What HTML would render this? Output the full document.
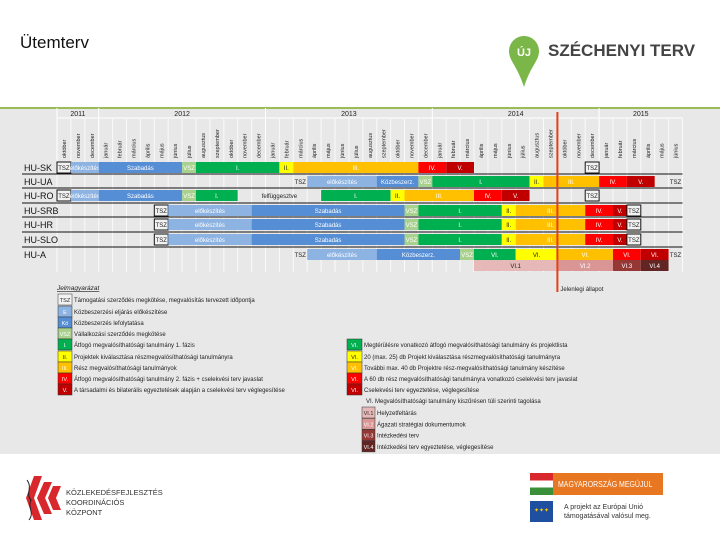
<!DOCTYPE html>
<html><head><meta charset="utf-8"><style>
body{margin:0;width:720px;height:540px;background:#fff;position:relative;overflow:hidden;font-family:"Liberation Sans",sans-serif}
.a{position:absolute}
</style></head><body>
<div class="a" style="left:20px;top:33px;font-size:17px;color:#111;font-family:'Liberation Sans Narrow','Liberation Sans',sans-serif">Ütemterv</div>
<div class="a" style="left:508px;top:34px;width:190px;height:55px">
 <svg width="190" height="55"><path d="M1,17 a15,15 0 1 1 30,0 c0,10 -8,14 -15,36 c-7,-22 -15,-26 -15,-36z" fill="#7ab648"/><text x="16" y="22" font-size="11" font-weight="bold" fill="#fff" text-anchor="middle" font-family="Liberation Sans">ÚJ</text></svg>
 <div class="a" style="left:40px;top:7px;font-size:17px;font-weight:bold;color:#444;font-family:'Liberation Sans Narrow','Liberation Sans',sans-serif;white-space:nowrap">SZÉCHENYI TERV</div>
</div>
<div class="a" style="left:0;top:107px;width:720px;height:345px;background:#e8e8e8;border-top:2px solid #9bbb59"></div>
<svg class="a" id="gantt" style="left:0;top:0" width="720" height="460"></svg>
<div class="a" style="left:24px;top:474px">
 <svg width="40" height="48"><path d="M10,2 l8,0 l-8,22 l8,22 l-8,0 l-8,-22z M20,8 l8,0 l-7,16 l7,16 l-8,0 l-7,-16z M29,12 l8,0 l-5,12 l5,12 l-8,0 l-5,-12z" fill="#d9272e"/><path d="M3,6 c6,8 -2,14 4,20 c-4,8 4,12 -2,20" stroke="#222" fill="none"/></svg>
 <div class="a" style="left:42px;top:14px;font-size:7.5px;line-height:10px;color:#333;white-space:nowrap">KÖZLEKEDÉSFEJLESZTÉS<br>KOORDINÁCIÓS<br>KÖZPONT</div>
</div>
<div class="a" style="left:530px;top:473px;width:23px;height:22px;background:linear-gradient(#d9272e 33%,#fff 33%,#fff 66%,#3a8f3a 66%)"></div>
<div class="a" style="left:553px;top:473px;width:110px;height:22px;background:#e87722;color:#fff;overflow:hidden"><div style="font-size:8.5px;line-height:22px;white-space:nowrap;transform:scaleX(0.82);transform-origin:5px 0;padding-left:5px">MAGYARORSZÁG MEGÚJUL</div></div>
<div class="a" style="left:530px;top:501px;width:23px;height:21px;background:#1f4fa0;color:#fc0;font-size:6px;text-align:center;line-height:21px">✦✦✦</div>
<div class="a" style="left:564px;top:503px;font-size:7px;line-height:9px;color:#333">A projekt az Európai Unió<br>támogatásával valósul meg.</div>
<script>
const years=[["2011",3],["2012",12],["2013",12],["2014",12],["2015",6]];
const months=["október","november","december","január","február","március","április","május","június","július","augusztus","szeptember","október","november","december","január","február","március","április","május","június","július","augusztus","szeptember","október","november","december","január","február","március","április","május","június","július","augusztus","szeptember","október","november","december","január","február","március","április","május","június"];
const rowNames=["HU-SK","HU-UA","HU-RO","HU-SRB","HU-HR","HU-SLO","HU-A",""];
const bars=[
[[0,1,"TSZ","tsz"],[1,3,"előkészítés","e"],[3,9,"Szabadás","k"],[9,10,"VSZ","v"],[10,16,"I.","g"],[16,17,"II.","y"],[17,26,"III.","o"],[26,28,"IV.","r"],[28,30,"V.","d"],[38,39,"TSZ","tsz"]],
[[17,18,"TSZ","tszn"],[18,23,"előkészítés","e"],[23,26,"Közbeszerz.","k"],[26,27,"VSZ","v"],[27,34,"I.","g"],[34,35,"II.","y"],[35,39,"III.","o"],[39,41,"IV.","r"],[41,43,"V.","d"],[44,45,"TSZ","tszn"]],
[[0,1,"TSZ","tsz"],[1,3,"előkészítés","e"],[3,9,"Szabadás","k"],[9,10,"VSZ","v"],[10,13,"I.","g"],[13,19,"felfüggesztve","n"],[19,24,"I.","g"],[24,25,"II.","y"],[25,30,"III.","o"],[30,32,"IV.","r"],[32,34,"V.","d"],[38,39,"TSZ","tsz"]],
[[7,8,"TSZ","tsz"],[8,14,"előkészítés","e"],[14,25,"Szabadás","k"],[25,26,"VSZ","v"],[26,32,"I.","g"],[32,33,"II.","y"],[33,38,"III.","o"],[38,40,"IV.","r"],[40,41,"V.","d"],[41,42,"TSZ","tsz"]],
[[7,8,"TSZ","tsz"],[8,14,"előkészítés","e"],[14,25,"Szabadás","k"],[25,26,"VSZ","v"],[26,32,"I.","g"],[32,33,"II.","y"],[33,38,"III.","o"],[38,40,"IV.","r"],[40,41,"V.","d"],[41,42,"TSZ","tsz"]],
[[7,8,"TSZ","tsz"],[8,14,"előkészítés","e"],[14,25,"Szabadás","k"],[25,26,"VSZ","v"],[26,32,"I.","g"],[32,33,"II.","y"],[33,38,"III.","o"],[38,40,"IV.","r"],[40,41,"V.","d"],[41,42,"TSZ","tsz"]],
[[17,18,"TSZ","tszn"],[18,23,"előkészítés","e"],[23,29,"Közbeszerz.","k"],[29,30,"VSZ","v"],[30,33,"VI.","g"],[33,36,"VI.","y"],[36,40,"VI.","o"],[40,42,"VI.","r"],[42,44,"VI.","d"],[44,45,"TSZ","tszn"]],
[[30,36,"VI.1","p1"],[36,40,"VI.2","p2"],[40,42,"VI.3","p3"],[42,44,"VI.4","p4"]]
];
const currentMonth=36;
const col={tsz:"#f2f2f2",tszn:"none",e:"#8db3e2",k:"#558ed5",v:"#a9d18e",g:"#00b050",y:"#ffff00",o:"#ffc000",r:"#ff0000",d:"#c00000",n:"none",p1:"#e6b9b8",p2:"#d99694",p3:"#953735",p4:"#632523"};
const rowY=[162,176,190,205,219,234,249,260];
const X0=57,CW=13.9,RH=11;
const x=m=>X0+m*CW;
const svg=document.getElementById('gantt');const NS="http://www.w3.org/2000/svg";
function mk(t,a,p){const e=document.createElementNS(NS,t);for(const k in a)e.setAttribute(k,a[k]);(p||svg).appendChild(e);return e;}
for(let m=0;m<=months.length;m++){const l=mk('line',{x1:x(m),x2:x(m),y1:119,y2:272,stroke:'#fafafa','stroke-width':1});

}
let acc=0;
years.forEach(([y,n])=>{const l=mk('line',{x1:x(acc),x2:x(acc),y1:108,y2:160,stroke:'#fff'});


const t=mk('text',{x:(x(acc)+x(acc+n))/2,y:116,'font-size':7,'text-anchor':'middle',fill:'#222'});t.textContent=y;


acc+=n;});
mk('line',{x1:X0,x2:x(months.length),y1:118,y2:118,stroke:'#fff'});
months.forEach((mn,i)=>{const cx=x(i)+CW/2+2;const t=mk('text',{x:cx,y:158,'font-size':5.5,fill:'#222',transform:`rotate(-90 ${cx} 158)`});t.textContent=mn;

});
[174,188,203,217,232,247].forEach(yy=>{const l=mk('line',{x1:22,x2:x(months.length),y1:yy,y2:yy,stroke:'#111','stroke-width':1});

});
rowNames.forEach((n,i)=>{if(!n)return;const t=mk('text',{x:24,y:rowY[i]+9,'font-size':9,fill:'#111'});t.textContent=n;

});
bars.forEach((row,ri)=>row.forEach(([s,e,lab,c])=>{
 if(col[c]!=="none"){const r=mk('rect',{x:x(s),y:rowY[ri],width:x(e)-x(s),height:RH,fill:col[c],stroke:c==='tsz'?'#111':'none','stroke-width':1});
 
 }
 const t=mk('text',{x:(x(s)+x(e))/2,y:rowY[ri]+8,'font-size':6,'text-anchor':'middle',fill:(c==='tsz'||c==='tszn'||c==='n'||c==='y'||c==='p1')?'#222':'#fff'});t.textContent=lab;
 
 
}));
const cl=mk('line',{x1:x(currentMonth),x2:x(currentMonth),y1:112,y2:292,stroke:'#e2401a','stroke-width':2});


const ct=mk('text',{x:x(currentMonth)+3,y:291,'font-size':6,fill:'#222'});ct.textContent="Jelenlegi állapot";


const lt=mk('text',{x:57,y:290,'font-size':6.5,'font-style':'italic','text-decoration':'underline',fill:'#222'});lt.textContent="Jelmagyarázat";


const legL=[["TSZ","tsz","Támogatási szerződés megkötése, megvalósítás tervezett időpontja"],["E","e","Közbeszerzési eljárás előkészítése"],["Kö","k","Közbeszerzés lefolytatása"],["VSZ","v","Vállalkozási szerződés megkötése"],["I.","g","Átfogó megvalósíthatósági tanulmány 1. fázis"],["II.","y","Projektek kiválasztása részmegvalósíthatósági tanulmányra"],["III.","o","Rész megvalósíthatósági tanulmányok"],["IV.","r","Átfogó megvalósíthatósági tanulmány 2. fázis + cselekvési terv javaslat"],["V.","d","A társadalmi és bilaterális egyeztetések alapján a cselekvési terv véglegesítése"]];
const legR=[["VI.","g","Megtérülésre vonatkozó átfogó megvalósíthatósági tanulmány és projektlista"],["VI.","y","20 (max. 25) db Projekt kiválasztása részmegvalósíthatósági tanulmányra"],["VI.","o","További max. 40 db Projektre rész-megvalósíthatósági tanulmány készítése"],["VI.","r","A 60 db rész megvalósíthatósági tanulmányra vonatkozó cselekvési terv javaslat"],["VI.","d","Cselekvési terv egyeztetése, véglegesítése"]];
const legVI=[["VI.1","p1","Helyzetfeltárás"],["VI.2","p2","Ágazati stratégiai dokumentumok"],["VI.3","p3","Intézkedési terv"],["VI.4","p4","Intézkedési terv egyeztetése, véglegesítése"]];
const legY=[294,306,317,328,339,351,362,373,384];
function item(sx,sy,code,c,txt,w){const r=mk('rect',{x:sx,y:sy,width:w,height:11,fill:col[c],stroke:'#333','stroke-width':0.5});


const a=mk('text',{x:sx+w/2,y:sy+8,'font-size':5.5,'text-anchor':'middle',fill:(c==='tsz'||c==='y'||c==='p1')?'#222':'#fff'});a.textContent=code;


const t=mk('text',{x:sx+w+2,y:sy+8,'font-size':6,fill:'#222'});t.textContent=txt;

}
legL.forEach((l,i)=>item(58,legY[i],l[0],l[1],l[2],14));
legR.forEach((l,i)=>item(347,legY[i+4],l[0],l[1],l[2],15));
const vt=mk('text',{x:366,y:403,'font-size':6,fill:'#222'});vt.textContent="VI. Megvalósíthatósági tanulmány kiszűrésen túli szerinti tagolása";


legVI.forEach((l,i)=>item(362,407+i*11.3,l[0],l[1],l[2],13));
</script>
</body></html>
